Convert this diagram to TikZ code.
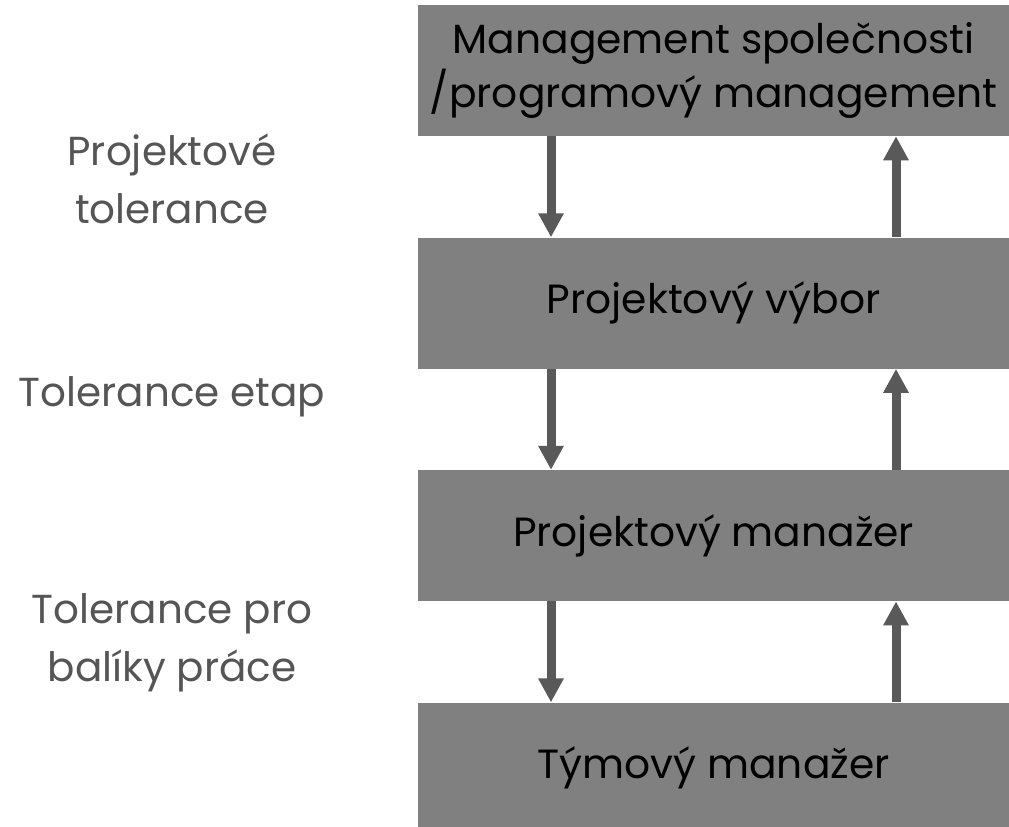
\documentclass[tikz,border=0pt]{standalone}
\usepackage{fontspec}
\setmainfont{Poppins}
\usetikzlibrary{arrows.meta, positioning}

\definecolor{boxgrey}{RGB}{128,128,128}
\definecolor{arrowgrey}{RGB}{89,89,89}
\definecolor{labelgrey}{RGB}{85,85,85}

\tikzset{
level/.style={fill=boxgrey, minimum width=14.775cm, minimum height=3.275cm, inner sep=0pt, align=center, font=\fontsize{29}{39}\selectfont},
tol/.style={text=labelgrey, align=center, font=\fontsize{28.8}{41}\selectfont},
flow/.style={draw=arrowgrey, line width=6.4pt, -{Triangle[width=0.6cm, length=0.6cm]}}
}

\begin{document}
\begin{tikzpicture}
\useasboundingbox (0,0) rectangle (25.225,20.675);
\node (M) [level] at (17.84,18.9125) {Management společnosti\\/programový management};
\node (PV) [level, below=2.525cm of M] {Projektový výbor};
\node (PM) [level, below=2.525cm of PV] {Projektový manažer};
\node (TM) [level, below=2.525cm of PM] {Týmový manažer};
%Tolerance:
\node (T1) [tol] at (4.3,16.2) {Projektové\\tolerance};
\node (T2) [tol] at (4.3,10.75) {Tolerance etap};
\node (T3) [tol] at (4.3,4.6) {Tolerance pro\\balíky práce};
%Down:
\draw [flow] ([xshift=-4.065cm]M.south) -- ([xshift=-4.065cm]PV.north);
\draw [flow] ([xshift=-4.065cm]PV.south) -- ([xshift=-4.065cm]PM.north);
\draw [flow] ([xshift=-4.065cm]PM.south) -- ([xshift=-4.065cm]TM.north);
%Up:
\draw [flow] ([xshift=4.56cm]PV.north) -- ([xshift=4.56cm]M.south);
\draw [flow] ([xshift=4.56cm]PM.north) -- ([xshift=4.56cm]PV.south);
\draw [flow] ([xshift=4.56cm]TM.north) -- ([xshift=4.56cm]PM.south);
\end{tikzpicture}
\end{document}
